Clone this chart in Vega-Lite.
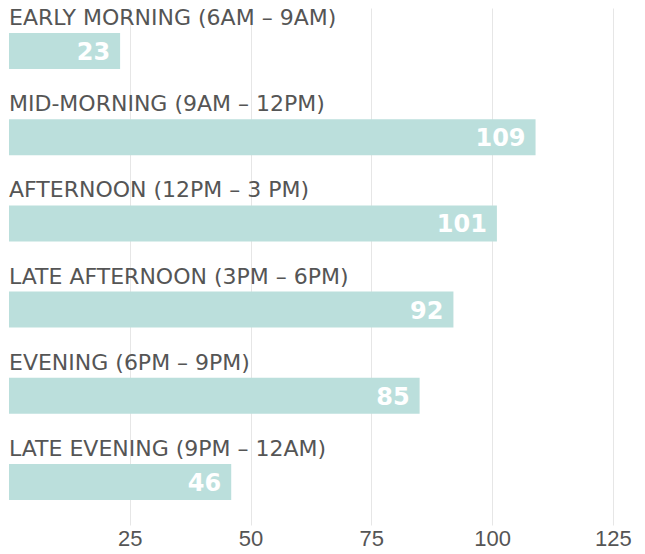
{
  "$schema": "https://vega.github.io/schema/vega-lite/v6.json",
  "width": 628,
  "height": 517,
  "autosize": {"type": "none"},
  "padding": {"left": 9, "top": 8, "right": 8, "bottom": 29},
  "background": "white",
  "config": {"view": {"stroke": null}},
  "data": {
    "values": [
      {"period": "EARLY MORNING (6AM – 9AM)", "count": 23},
      {"period": "MID-MORNING (9AM – 12PM)", "count": 109},
      {"period": "AFTERNOON (12PM – 3 PM)", "count": 101},
      {"period": "LATE AFTERNOON (3PM – 6PM)", "count": 92},
      {"period": "EVENING (6PM – 9PM)", "count": 85},
      {"period": "LATE EVENING (9PM – 12AM)", "count": 46}
    ]
  },
  "encoding": {
    "y": {"field": "period", "type": "nominal", "sort": null, "axis": null, "scale": {"paddingInner": 0, "paddingOuter": 0}},
    "x": {
      "field": "count", "type": "quantitative",
      "scale": {"domain": [0, 130], "nice": false},
      "axis": {
        "title": null, "values": [25, 50, 75, 100, 125], "domain": false, "ticks": false,
        "grid": true, "gridColor": "#e6e6e6", "gridWidth": 1,
        "labelFontSize": 22, "labelColor": "#555555", "labelFont": "Liberation Sans",
        "labelPadding": 3
      }
    }
  },
  "layer": [
    {"mark": {"type": "bar", "color": "#bbdfdc", "height": 36}},
    {
      "mark": {"type": "text", "align": "left", "baseline": "alphabetic", "dy": -26, "fontSize": 22, "font": "DejaVu Sans", "color": "#555555"},
      "encoding": {"text": {"field": "period"}, "x": {"datum": 0}}
    },
    {
      "mark": {"type": "text", "align": "right", "baseline": "alphabetic", "dx": -10, "dy": 9, "fontSize": 24, "fontWeight": "bold", "font": "DejaVu Sans", "color": "white"},
      "encoding": {"text": {"field": "count"}}
    }
  ]
}
